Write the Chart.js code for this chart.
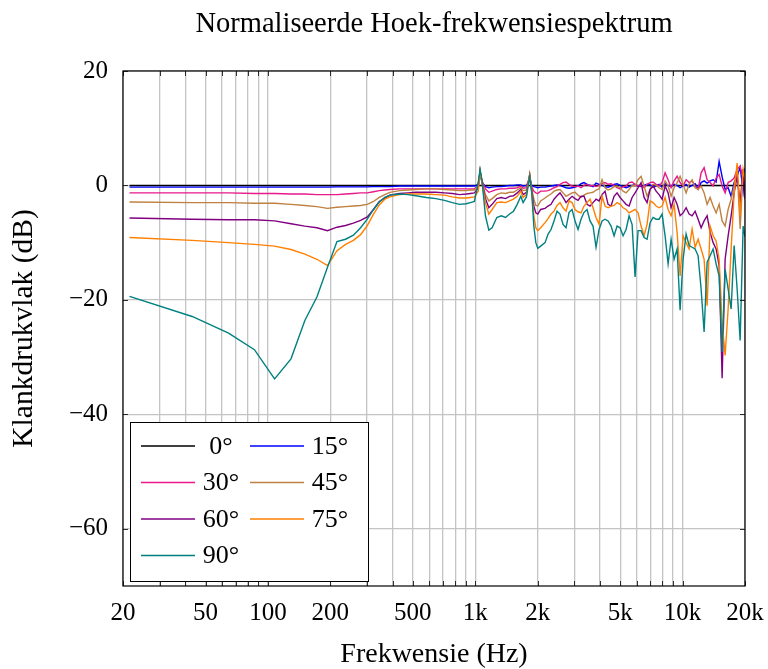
<!DOCTYPE html>
<html><head><meta charset="utf-8">
<script src="https://cdn.jsdelivr.net/npm/chart.js@4.4.1/dist/chart.umd.min.js"></script>
<style>html,body{margin:0;padding:0;background:#fff;}canvas{display:block;}</style>
</head><body>
<canvas id="c" width="768" height="669"></canvas>
<script>
// Frequencies (Hz)
const freq = [21.5, 43.1, 64.6, 86.1, 107.7, 129.2, 150.7, 172.3, 193.8, 215.3,
  236.9, 258.4, 279.9, 301.5, 323, 344.5, 366.1, 387.6, 430.7, 473.8,
  516.8, 581.4, 646, 710.6, 775.2, 839.8, 904.4, 947.5, 990.5,
  1033.6, 1055.1, 1076.7, 1119.7, 1162.8, 1205.9, 1270.5, 1335.1, 1399.7, 1464.3,
  1528.9, 1593.5, 1658.1, 1701.1, 1765.7, 1830.3, 1873.4, 1916.5, 1959.5, 2002.6, 2067.2,
  2171, 2245, 2320, 2398, 2480,
  2564, 2651, 2741, 2834, 2930, 3029, 3131, 3237, 3347, 3461,
  3578, 3699, 3825, 3955, 4089, 4227, 4371, 4519, 4672, 4831,
  4994, 5164, 5339, 5520, 5707, 5900, 6100, 6307, 6521, 6742,
  6970, 7207, 7451, 7703,
  7965, 8235, 8514, 8802, 9101, 9409, 9728, 10058, 10399, 10751,
  11116, 11492, 11882, 12285, 12701, 13132, 13577, 14038, 14513, 15005,
  15514, 16040, 16584, 17146, 17728, 18328, 18950, 19592,
  20000];

const freq0 = [21.5, 20000];
const deg0 = [0, 0];

const deg15 = [-0.3, -0.3, -0.3, -0.3, -0.3, -0.3, -0.3, -0.3, -0.3, -0.25,
  -0.25, -0.25, -0.25, -0.25, -0.2, -0.2, -0.2, -0.2, -0.1, -0.1,
  -0.1, -0.1, -0.1, -0.1, -0.1, -0.1, -0.1, -0.1, -0.1,
  0.2, 2.3, 0.6, -0.2, -0.4, -0.3, -0.2, -0.2, -0.1, 0.0,
  0.0, 0.1, 0.1, -0.1, 0.0, 1.0, 0.0, -0.2, -0.3, -0.4, -0.3,
  -0.3, -0.2, -0.1, 0.0, 0.1,
  0.0, -0.2, -0.4, -0.5, -0.4, -0.3, -0.1, 0.3, 0.5, 0.2,
  0.0, -0.2, 0.4, 0.2, 0.0, -0.2, -0.3, -0.1, 0.2, 0.3,
  0.0, -0.2, -0.4, -0.2, 0.0, 0.1, -0.1, -0.2, 0.0, 0.2,
  0.1, -0.3, -0.1, 0.2,
  -0.3, 0.3, 0.0, -0.2, 0.2, 0.0, -0.4, -0.1, 0.2, -0.3,
  0.0, 0.3, -0.5, 0.5, 0.8, 0.4, 0.8, 1.0, 0.6, 4.2,
  1.5, -0.7, -0.4, -1.9, 0.5, 1.6, 3.2, -1.0,
  3.0];

const deg30 = [-1.3, -1.3, -1.3, -1.4, -1.4, -1.5, -1.5, -1.6, -1.6, -1.6,
  -1.5, -1.4, -1.3, -1.3, -1.1, -0.9, -0.8, -0.7, -0.6, -0.6,
  -0.6, -0.6, -0.6, -0.6, -0.6, -0.6, -0.6, -0.6, -0.6,
  0.0, 2.4, 0.8, -0.6, -1.2, -1.0, -0.7, -0.6, -0.6, -0.5,
  -0.5, -0.4, -0.1, -0.5, -0.4, 1.5, -0.3, -1.0, -1.3, -1.4, -1.0,
  -1.0, -0.9, -0.7, -0.4, -0.2,
  0.2, 0.5, 0.6, 0.2, -0.1, -0.2, -0.1, -0.4, 0.0, 0.2,
  -0.1, 0.0, -0.2, 0.0, 0.3, 0.5, 0.2, 0.3, 0.0, -0.4,
  -0.6, -0.2, -0.1, 0.5, 0.6, 0.2, -0.1, 0.0, -0.4, 0.2,
  0.5, 0.6, 0.2, -0.1,
  0.5, 2.2, 1.0, -0.4, 0.8, 1.6, 0.5, -0.1, 1.0, 0.5,
  0.8, -0.1, -0.7, 2.2, 3.1, 1.0, 0.5, -0.1, 1.3, 1.9,
  -0.1, -1.3, 0.5, 0.8, 1.3, 2.8, 3.4, 1.0,
  0.5];

const deg45 = [-2.9, -3.0, -3.0, -3.1, -3.1, -3.3, -3.5, -3.7, -4.0, -3.8,
  -3.7, -3.6, -3.5, -3.3, -2.8, -2.1, -1.6, -1.2, -0.9, -0.8,
  -0.7, -0.6, -0.6, -0.7, -0.8, -0.9, -0.9, -0.8, -0.8,
  -0.2, 2.5, 0.8, -1.6, -2.7, -2.3, -1.6, -1.3, -1.4, -1.2,
  -1.2, -0.8, -0.4, -0.9, -0.8, 1.9, -0.6, -2.4, -3.5, -3.6, -2.7,
  -2.2, -1.8, -1.5, -1.0, -0.8,
  -0.7, -1.3, -1.9, -1.6, -1.3, -1.2, -1.7, -2.1, -1.7, -1.4,
  -1.3, -1.2, -0.8, -0.6, 1.0, -0.4, -0.8, -0.6, -0.2, -0.1,
  -0.4, -1.0, -1.3, -0.7, 0.0, -0.1, 1.0, 1.6, -0.1, -1.9,
  -0.7, 0.2, 0.0, -0.4,
  -0.7, 0.8, -0.1, -1.9, -0.4, 0.5, 1.6, 0.2, -1.3, 0.2,
  1.0, -0.4, -0.7, -0.1, -1.3, -3.3, -2.1, -3.6, -4.8, -3.3,
  -6.2, -7.1, -4.2, -2.4, -0.1, 2.8, -7.6, 2.8,
  0.5];

const deg60 = [-5.7, -5.9, -6.0, -6.0, -6.2, -6.7, -7.1, -7.4, -7.9, -7.3,
  -7.0, -6.6, -6.1, -5.5, -4.2, -2.8, -2.2, -1.7, -1.4, -1.3,
  -1.2, -1.2, -1.2, -1.3, -1.4, -1.6, -1.5, -1.4, -1.3,
  -0.5, 2.5, 0.7, -2.3, -3.9, -3.3, -2.3, -2.1, -2.3, -1.9,
  -1.8, -1.3, -0.7, -1.6, -1.2, 1.9, -1.0, -3.6, -4.8, -5.0, -4.2,
  -4.0, -3.6, -3.3, -2.4, -1.8,
  -1.3, -2.1, -3.0, -2.4, -1.9, -2.3, -2.6, -1.9, -1.9, -3.3,
  -3.6, -3.0, -2.4, -2.7, -1.6, -1.0, -3.3, -3.6, -1.9, -1.3,
  -2.1, -2.7, -3.3, -3.6, -2.1, -1.3, -0.4, 0.5, -2.1, -3.0,
  -0.7, -0.1, -1.0, -1.6,
  -2.4, -0.1, -1.3, -3.9, -2.1, -3.3, -5.3, -4.8, -3.9, -5.0,
  -5.3, -4.5, -5.9, -7.4, -6.2, -5.3, -8.2, -10.0, -11.1, -14.0,
  -33.7, -12.9, -8.8, -5.3, -1.3, 1.6, -3.0, 2.8,
  -2.4];

const deg75 = [-9.1, -9.6, -10.0, -10.3, -10.6, -11.2, -12.0, -12.9, -14.0, -11.4,
  -10.3, -9.6, -8.6, -7.0, -5.0, -3.4, -2.4, -2.0, -1.6, -1.5,
  -1.5, -1.5, -1.6, -1.7, -2.0, -2.2, -2.2, -2.1, -2.0,
  -1.0, 2.5, 0.5, -3.0, -5.0, -4.2, -3.0, -2.9, -3.0, -2.7,
  -2.4, -1.9, -1.0, -2.1, -1.6, 1.9, -1.3, -5.3, -7.4, -7.9, -7.4,
  -6.5, -5.8, -5.0, -4.5, -3.5,
  -3.0, -3.9, -4.5, -2.7, -3.0, -4.2, -4.6, -4.8, -3.6, -3.0,
  -2.4, -3.9, -5.6, -6.8, -1.9, -3.6, -3.9, -3.6, -3.5, -3.0,
  -3.3, -3.9, -4.2, -4.8, -4.5, -4.2, -4.8, -7.1, -8.8, -6.8,
  -2.7, -3.0, -3.6, -3.9,
  -3.6, -2.1, -4.2, -5.3, -3.3, -8.2, -15.8, -8.8, -10.0, -11.1,
  -7.6, -10.8, -9.4, -11.1, -12.9, -21.0, -7.1, -8.8, -9.7, -12.9,
  -23.9, -29.7, -21.6, -11.1, -1.3, 3.9, -5.3, 2.8,
  1.0];

const deg90 = [-19.4, -22.9, -25.8, -28.7, -33.8, -30.3, -23.6, -19.5, -14.3, -9.8,
  -9.4, -8.7, -7.4, -5.9, -4.2, -2.9, -2.1, -1.7, -1.5, -1.6,
  -1.8, -2.1, -2.3, -2.6, -3.0, -3.3, -3.2, -3.0, -2.8,
  0.5, 2.8, 1.0, -5.3, -7.8, -7.4, -5.6, -5.3, -5.6, -5.0,
  -4.5, -3.3, -1.9, -3.0, -2.0, 1.6, -1.3, -7.1, -10.0, -11.0, -10.6,
  -10.0, -8.5, -7.7, -6.2, -4.5,
  -5.0, -6.8, -7.4, -4.7, -4.2, -6.2, -7.7, -5.9, -4.7, -4.2,
  -6.2, -7.1, -10.8, -7.7, -6.2, -5.9, -6.2, -7.1, -8.8, -7.1,
  -7.4, -8.8, -7.7, -5.3, -6.8, -16.0, -7.9, -7.9, -9.1, -9.4,
  -6.5, -5.6, -5.9, -5.9,
  -5.0, -8.8, -13.7, -9.4, -12.9, -11.1, -21.8, -12.9, -8.5, -10.5,
  -10.8, -11.1, -12.3, -18.1, -25.6, -13.4, -12.3, -11.1, -13.7, -15.8,
  -29.1, -14.6, -18.1, -21.6, -10.5, -18.1, -27.1, -7.1,
  -9.0];

const seriesLabels = ['0°', '15°', '30°', '45°', '60°', '75°', '90°'];
const seriesColors = ['#000000', '#0000ff', '#e8198b', '#bf8040', '#800080', '#ff8000', '#008080'];
const xGridValues = [20, 30, 40, 50, 60, 70, 80, 90, 100, 200, 300, 400, 500, 600, 700, 800, 900,
  1000, 2000, 3000, 4000, 5000, 6000, 7000, 8000, 9000, 10000, 20000];
const xTickLabels = {20: '20', 50: '50', 100: '100', 200: '200', 500: '500', 1000: '1k',
  2000: '2k', 5000: '5k', 10000: '10k', 20000: '20k'};
const yTickValues = [-60, -40, -20, 0, 20];

const titleText = 'Normaliseerde Hoek-frekwensiespektrum';
const xTitle = 'Frekwensie (Hz)';
const yTitle = 'Klankdrukvlak (dB)';
const FONT = "'Liberation Serif', 'DejaVu Serif', serif";

const seriesData = [[freq0, deg0], [freq, deg15], [freq, deg30], [freq, deg45], [freq, deg60], [freq, deg75], [freq, deg90]];
const datasets = seriesData.map(([fx, vy], i) => ({
  label: seriesLabels[i],
  data: fx.map((f, j) => ({x: f, y: vy[j]})),
  borderColor: seriesColors[i],
  backgroundColor: seriesColors[i],
  borderWidth: 1.4,
  pointRadius: 0,
  tension: 0,
  fill: false,
  order: seriesLabels.length - 1 - i
}));

const decorPlugin = {
  id: 'decor',
  afterDraw(chart) {
    const ctx = chart.ctx;
    const a = chart.chartArea;
    const xs = chart.scales.x, ys = chart.scales.y;
    ctx.save();
    ctx.strokeStyle = '#000';
    ctx.lineWidth = 0.8;
    ctx.beginPath();
    xGridValues.forEach(v => {
      const px = Math.round(xs.getPixelForValue(v)) + 0.5;
      ctx.moveTo(px, a.bottom); ctx.lineTo(px, a.bottom - 5);
      ctx.moveTo(px, a.top); ctx.lineTo(px, a.top + 5);
    });
    yTickValues.forEach(v => {
      const py = Math.round(ys.getPixelForValue(v)) + 0.5;
      ctx.moveTo(a.left, py); ctx.lineTo(a.left + 5, py);
      ctx.moveTo(a.right, py); ctx.lineTo(a.right - 5, py);
    });
    ctx.stroke();
    ctx.lineWidth = 1.2;
    ctx.strokeRect(a.left, a.top, a.right - a.left, a.bottom - a.top);
    ctx.fillStyle = '#000';
    ctx.font = "28.5px " + FONT;
    ctx.textAlign = 'center';
    ctx.textBaseline = 'middle';
    ctx.fillText(titleText, (a.left + a.right) / 2, 25);
    const bx = a.left + 7, bw = 238, bh = 159, by = a.bottom - 5 - bh;
    ctx.fillStyle = '#fff';
    ctx.fillRect(bx, by, bw, bh);
    ctx.strokeStyle = '#000';
    ctx.lineWidth = 1;
    ctx.strokeRect(bx + 0.5, by + 0.5, bw, bh);
    ctx.font = "26px " + FONT;
    chart.data.datasets.forEach((ds, i) => {
      const col = i % 2, row = Math.floor(i / 2);
      const cy = by + 24 + row * 36.5;
      const lx = bx + 11 + col * 109;
      ctx.strokeStyle = ds.borderColor;
      ctx.lineWidth = 1.4;
      ctx.beginPath();
      ctx.moveTo(lx, cy); ctx.lineTo(lx + 54, cy);
      ctx.stroke();
      ctx.fillStyle = '#000';
      ctx.textAlign = 'center';
      ctx.fillText(ds.label, lx + 80, cy + 1);
    });
    ctx.restore();
  }
};

new Chart(document.getElementById('c'), {
  type: 'line',
  data: {datasets},
  options: {
    responsive: false,
    animation: false,
    layout: {padding: {left: 0, right: 23, top: 71, bottom: 0}},
    plugins: {legend: {display: false}, title: {display: false}, tooltip: {enabled: false}},
    scales: {
      x: {
        type: 'logarithmic',
        min: 20, max: 20000,
        afterBuildTicks: s => { s.ticks = xGridValues.map(v => ({value: v})); },
        afterFit: s => { s.height = 83; s.paddingLeft = 0; s.paddingRight = 0; },
        ticks: {
          autoSkip: false, maxRotation: 0, minRotation: 0, padding: 12,
          color: '#000', font: {family: FONT, size: 25},
          callback: v => xTickLabels[v] || ''
        },
        grid: {color: '#c4c4c4', lineWidth: 1.3, drawTicks: false},
        border: {display: false},
        title: {display: true, text: xTitle, color: '#000', font: {family: FONT, size: 28, lineHeight: 1}, padding: {top: 0, bottom: 0}}
      },
      y: {
        type: 'linear',
        min: -70, max: 20,
        afterBuildTicks: s => { s.ticks = yTickValues.map(v => ({value: v})); },
        afterFit: s => { s.width = 123; s.paddingTop = 0; s.paddingBottom = 0; },
        ticks: {
          padding: 15, color: '#000', font: {family: FONT, size: 25},
          callback: v => (v < 0 ? '\u2212' + Math.abs(v) : String(v))
        },
        grid: {color: '#c4c4c4', lineWidth: 1.3, drawTicks: false},
        border: {display: false},
        title: {display: true, text: yTitle, color: '#000', font: {family: FONT, size: 29.5, lineHeight: 1.2}, padding: {top: 7, bottom: 0}}
      }
    }
  },
  plugins: [decorPlugin]
});
</script>
</body></html>
